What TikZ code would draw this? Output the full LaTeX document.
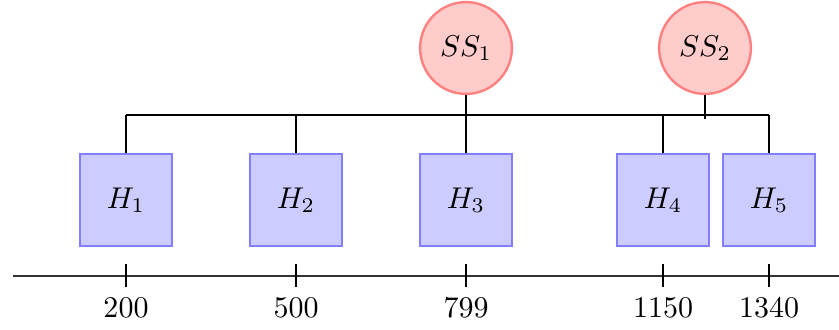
\documentclass[tikz,border=0pt]{standalone}
\usepackage{xcolor}
\usepackage{tikz}
\usetikzlibrary{positioning,calc}

\begin{document}
\begin{tikzpicture}[x=0.3333pt, y=-0.3333pt,
  host/.style={draw=blue!50, fill=blue!20, thick, minimum size=30.6pt, inner sep=0pt},
  server/.style={circle, draw=red!50, fill=red!20, thick, minimum size=30.6pt, inner sep=0pt},
  wire/.style={black, line width=0.35pt},
  ticklabel/.style={font=\normalsize}]
\useasboundingbox (0,0) rectangle (839,329);
% axis
\coordinate (axL) at (13,276);
\coordinate (axR) at (839,276);
\draw[wire, black!80] (axL) -- (axR);
% hosts with their ticks
\foreach \i/\px/\v in {1/126/200, 2/296/500, 3/466/799, 4/663/1150, 5/769/1340}{
  \node[host] (H\i) at (\px,200) {$H_\i$};
  \coordinate (tkT\i) at (\px,264);
  \coordinate (tkB\i) at (\px,287);
  \draw[wire] (tkT\i) -- (tkB\i);
  \node[ticklabel] (L\i) at (\px,308) {\v};
  \coordinate (bus\i) at (\px,115);
  \draw[wire] (H\i.north) -- (bus\i);
}
\draw[wire] (bus1) -- (bus5);
% servers
\node[server] (SS1) at (466,48) {$SS_1$};
\node[server] (SS2) at (705,48) {$SS_2$};
\draw[wire] (SS1.south) -- (H3.north);
\coordinate (drop2) at (705,119);
\draw[wire] (SS2.south) -- (drop2);
\end{tikzpicture}
\end{document}
